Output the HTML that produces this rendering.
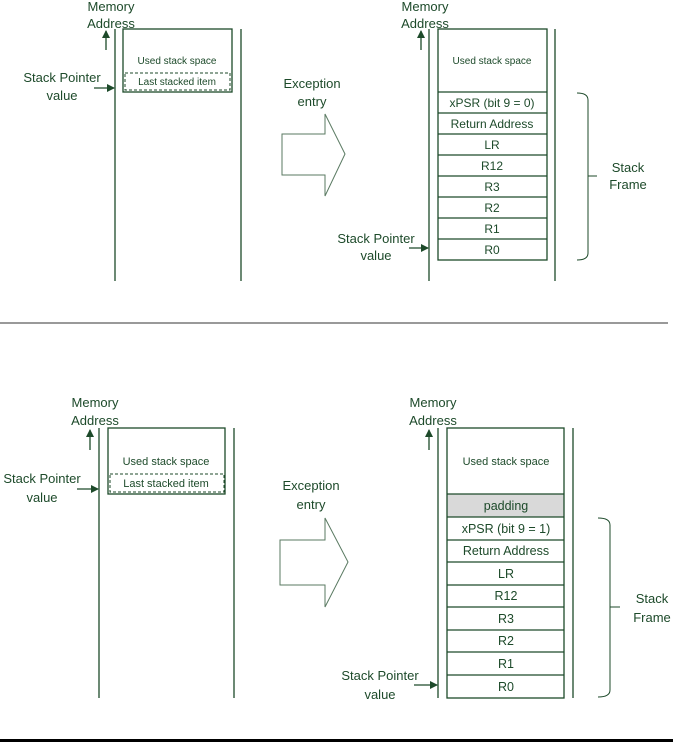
<!DOCTYPE html>
<html><head><style>
html,body{margin:0;padding:0;background:#fff;}
svg{display:block;}
text{font-family:"Liberation Sans",sans-serif;fill:#1d4a2a;text-anchor:middle;}
</style></head><body>
<svg width="673" height="742" viewBox="0 0 673 742" xmlns="http://www.w3.org/2000/svg">
<defs>
<marker id="ah" markerWidth="8" markerHeight="8" refX="7" refY="4" orient="auto" markerUnits="userSpaceOnUse">
<path d="M0,0 L8,4 L0,8 z" fill="#1d4a2a"/></marker>
</defs>
<g stroke="#1d4a2a" stroke-width="1.3" fill="none">
<!-- TOP LEFT -->
<line x1="115" y1="29" x2="115" y2="281"/>
<line x1="241" y1="29" x2="241" y2="281"/>
<rect x="123" y="29" width="109" height="63"/>
<rect x="125" y="73" width="105" height="17" stroke-dasharray="3,2" stroke-width="1"/>
<line x1="106" y1="50" x2="106" y2="31" marker-end="url(#ah)"/>
<line x1="94" y1="88" x2="114" y2="88" marker-end="url(#ah)"/>
<!-- TOP ARROW -->
<path d="M282,134 H325 V114 L345,154 L325,196 V175 H282 Z" stroke="#5a7a62" stroke-width="1"/>
<!-- TOP RIGHT -->
<line x1="429" y1="29" x2="429" y2="281"/>
<line x1="555" y1="29" x2="555" y2="281"/>
<rect x="438" y="29" width="109" height="231"/>
<line x1="438" y1="92" x2="547" y2="92"/><line x1="438" y1="113" x2="547" y2="113"/>
<line x1="438" y1="134" x2="547" y2="134"/><line x1="438" y1="155" x2="547" y2="155"/>
<line x1="438" y1="176" x2="547" y2="176"/><line x1="438" y1="197" x2="547" y2="197"/>
<line x1="438" y1="218" x2="547" y2="218"/><line x1="438" y1="239" x2="547" y2="239"/>
<line x1="421" y1="50" x2="421" y2="31" marker-end="url(#ah)"/>
<line x1="409" y1="248" x2="428" y2="248" marker-end="url(#ah)"/>
<path d="M577,93 Q588,93 588,100 V176 H597 M588,176 V253 Q588,260 577,260" stroke-width="1"/>
<!-- BOTTOM LEFT -->
<line x1="99" y1="428" x2="99" y2="698"/>
<line x1="234" y1="428" x2="234" y2="698"/>
<rect x="108" y="428" width="117" height="66"/>
<rect x="110" y="474" width="114" height="18" stroke-dasharray="3,2" stroke-width="1"/>
<line x1="90" y1="450" x2="90" y2="430" marker-end="url(#ah)"/>
<line x1="77" y1="489" x2="98" y2="489" marker-end="url(#ah)"/>
<!-- BOTTOM ARROW -->
<path d="M280,540 H325 V518 L348,562 L325,607 V585 H280 Z" stroke="#5a7a62" stroke-width="1"/>
<!-- BOTTOM RIGHT -->
<line x1="438" y1="428" x2="438" y2="698"/>
<line x1="573" y1="428" x2="573" y2="698"/>
<rect x="447" y="494" width="117" height="23" fill="#d9d9d9" stroke="none"/>
<rect x="447" y="428" width="117" height="270"/>
<line x1="447" y1="494" x2="564" y2="494"/><line x1="447" y1="517" x2="564" y2="517"/>
<line x1="447" y1="540" x2="564" y2="540"/><line x1="447" y1="562" x2="564" y2="562"/>
<line x1="447" y1="585" x2="564" y2="585"/><line x1="447" y1="607" x2="564" y2="607"/>
<line x1="447" y1="630" x2="564" y2="630"/><line x1="447" y1="652" x2="564" y2="652"/>
<line x1="447" y1="675" x2="564" y2="675"/>
<line x1="429" y1="450" x2="429" y2="430" marker-end="url(#ah)"/>
<line x1="414" y1="685" x2="437" y2="685" marker-end="url(#ah)"/>
<path d="M598,518 Q610,518 610,525 V607 H620 M610,607 V690 Q610,697 598,697" stroke-width="1"/>
</g>
<line x1="0" y1="323" x2="668" y2="323" stroke="#333" stroke-width="1"/>
<rect x="0" y="739" width="673" height="3" fill="#000"/>
<!-- TEXT TOP -->
<g font-size="13">
<text x="111" y="11">Memory</text><text x="111" y="28">Address</text>
<text x="62" y="82">Stack Pointer</text><text x="62" y="100">value</text>
<text x="312" y="88">Exception</text><text x="312" y="106">entry</text>
<text x="425" y="11">Memory</text><text x="425" y="28">Address</text>
<text x="376" y="243">Stack Pointer</text><text x="376" y="260">value</text>
<text x="628" y="172">Stack</text><text x="628" y="189">Frame</text>
</g>
<g font-size="10"><text x="177" y="64">Used stack space</text><text x="177" y="85">Last stacked item</text>
<text x="492" y="64">Used stack space</text></g>
<g font-size="12">
<text x="492" y="107">xPSR (bit 9 = 0)</text><text x="492" y="128">Return Address</text>
<text x="492" y="149">LR</text><text x="492" y="170">R12</text><text x="492" y="191">R3</text>
<text x="492" y="212">R2</text><text x="492" y="233">R1</text><text x="492" y="254">R0</text>
</g>
<!-- TEXT BOTTOM -->
<g font-size="13">
<text x="95" y="407">Memory</text><text x="95" y="425">Address</text>
<text x="42" y="483">Stack Pointer</text><text x="42" y="502">value</text>
<text x="311" y="490">Exception</text><text x="311" y="509">entry</text>
<text x="433" y="407">Memory</text><text x="433" y="425">Address</text>
<text x="380" y="680">Stack Pointer</text><text x="380" y="699">value</text>
<text x="652" y="603">Stack</text><text x="652" y="622">Frame</text>
</g>
<g font-size="11"><text x="166" y="465">Used stack space</text><text x="166" y="487">Last stacked item</text>
<text x="506" y="465">Used stack space</text></g>
<g font-size="12.5">
<text x="506" y="510">padding</text><text x="506" y="533">xPSR (bit 9 = 1)</text>
<text x="506" y="555">Return Address</text><text x="506" y="578">LR</text>
<text x="506" y="600">R12</text><text x="506" y="623">R3</text><text x="506" y="645">R2</text>
<text x="506" y="668">R1</text><text x="506" y="691">R0</text>
</g>
</svg>
</body></html>
